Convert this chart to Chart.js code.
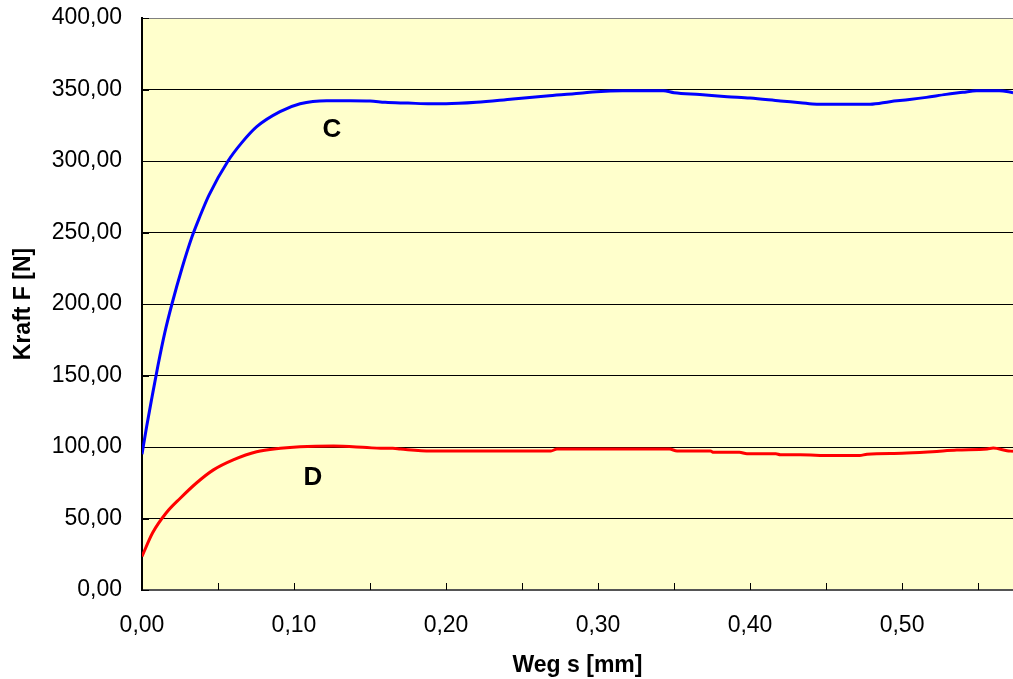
<!DOCTYPE html>
<html>
<head>
<meta charset="utf-8">
<script src="https://cdn.jsdelivr.net/npm/chart.js@4.4.1/dist/chart.umd.min.js"></script>
<style>
html,body{margin:0;padding:0;background:#fff;}
#wrap{width:1013px;height:679px;position:relative;}
</style>
</head>
<body>
<div id="wrap"><canvas id="c"></canvas></div>
<script>
// ---- data ----
const sC = [0.000,0.003,0.0066,0.0105,0.0150,0.0197,0.0263,0.0329,0.0380,0.0440,0.0566,0.0658,0.0755,0.0908,0.104,0.1215,0.137,0.150,0.160,0.175,0.190,0.200,0.220,0.244,0.266,0.288,0.299,0.316,0.330,0.343,0.350,0.367,0.385,0.400,0.420,0.433,0.444,0.460,0.479,0.492,0.505,0.516,0.529,0.540,0.549,0.564,0.573];
const fC = [95,114,135,157,180,200,225,247,261,276,300,313,324,334.5,340,342.2,342.2,342,341,340.5,340,340,341,343.4,345.5,347.3,348.5,349.2,349.2,349.2,347.8,346.5,345,344,342,340.8,339.7,339.7,339.7,341.5,343,344.5,346.6,348,349.2,349.2,347.8];
const sD = [0.000,0.007,0.016,0.025,0.036,0.047,0.060,0.0754,0.091,0.104,0.126,0.148,0.157,0.165,0.170,0.190,0.269,0.273,0.347,0.352,0.374,0.376,0.393,0.398,0.417,0.420,0.433,0.453,0.472,0.477,0.500,0.520,0.536,0.556,0.560,0.569,0.573];
const fD = [23.5,40,54,64,75,84,91,96.7,99.1,100.2,100.7,99.6,99.1,99.1,98.6,97.2,97.2,98.6,98.6,97.2,97.2,96.3,96.3,95.3,95.3,94.6,94.6,94,94,95,95.6,96.7,97.9,98.6,99.3,97.4,97];
const xTicks = [0,0.05,0.10,0.15,0.20,0.25,0.30,0.35,0.40,0.45,0.50,0.55];
const yTicks = [0,50,100,150,200,250,300,350,400];
const seriesLabels = ['C','D'];
const seriesLabelPos = [{s:0.125,f:321.5},{s:0.1125,f:78.7}];
const xTitle = 'Weg s [mm]';
const yTitle = 'Kraft F [N]';
const xMax = 0.573;

const fmt = v => v.toFixed(2).replace('.', ',');
const FONT = "'Liberation Sans', Arial, sans-serif";

const bgPlugin = {
  id:'bg',
  beforeDraw(chart){
    const {ctx, chartArea:a} = chart;
    ctx.save(); ctx.fillStyle='#FFFFCC';
    ctx.fillRect(a.left,a.top,a.right-a.left,a.bottom-a.top);
    ctx.restore();
  },
  beforeDatasetsDraw(chart){
    const {ctx, chartArea:a, scales} = chart;
    ctx.save(); ctx.strokeStyle='#000'; ctx.lineWidth=1;
    scales.x.ticks.forEach(t=>{
      const x = Math.round(scales.x.getPixelForValue(t.value))+0.5;
      ctx.beginPath(); ctx.moveTo(x,a.bottom); ctx.lineTo(x,a.bottom-7); ctx.stroke();
    });
    scales.y.ticks.forEach(t=>{
      const y = Math.round(scales.y.getPixelForValue(t.value))+0.5;
      ctx.beginPath(); ctx.moveTo(a.left,y); ctx.lineTo(a.left+7,y); ctx.stroke();
    });
    ctx.restore();
  },
  afterDatasetsDraw(chart){
    const {ctx, scales} = chart;
    ctx.save(); ctx.fillStyle='#000'; ctx.font='bold 26px '+FONT;
    ctx.textAlign='center'; ctx.textBaseline='middle';
    seriesLabels.forEach((l,i)=>{
      ctx.fillText(l, scales.x.getPixelForValue(seriesLabelPos[i].s), scales.y.getPixelForValue(seriesLabelPos[i].f));
    });
    ctx.restore();
  }
};

new Chart(document.getElementById('c'), {
  type:'line',
  data:{
    datasets:[
      {label:seriesLabels[0], data:sC.map((s,i)=>({x:s,y:fC[i]})), borderColor:'#0000FF', borderWidth:3, pointRadius:0, cubicInterpolationMode:'monotone', fill:false},
      {label:seriesLabels[1], data:sD.map((s,i)=>({x:s,y:fD[i]})), borderColor:'#FF0000', borderWidth:3, pointRadius:0, cubicInterpolationMode:'monotone', fill:false}
    ]
  },
  options:{
    responsive:true, maintainAspectRatio:false, animation:false,
    layout:{padding:{top:18,right:0,bottom:0,left:0}},
    plugins:{legend:{display:false}, tooltip:{enabled:false}},
    scales:{
      x:{
        type:'linear', min:0, max:xMax,
        afterBuildTicks(sc){ sc.ticks = xTicks.filter(v=>v<=xMax).map(v=>({value:v})); },
        afterFit(sc){ sc.height = 89; sc.paddingLeft = 0; sc.paddingRight = 0; },
        grid:{display:false, drawTicks:false},
        border:{display:true, color:'#555', width:2},
        ticks:{
          padding:22, color:'#000', font:{family:FONT, size:23}, maxRotation:0, autoSkip:false,
          callback:(v)=> Math.abs(v*10-Math.round(v*10))<1e-6 ? fmt(v) : ''
        },
        title:{display:true, text:xTitle, color:'#000', font:{family:FONT, size:23, weight:'bold'}, padding:{top:0,bottom:0}}
      },
      y:{
        type:'linear', min:0, max:400,
        afterBuildTicks(sc){ sc.ticks = yTicks.map(v=>({value:v})); },
        afterFit(sc){ sc.width = 142; sc.paddingTop = 0; sc.paddingBottom = 0; },
        grid:{drawTicks:false, color:(c)=> c.tick && c.tick.value===400 ? '#808080' : '#000', lineWidth:1},
        border:{display:true, color:'#000', width:2},
        ticks:{padding:20, color:'#000', font:{family:FONT, size:23}, callback:(v)=>fmt(v)},
        title:{display:true, text:yTitle, color:'#000', font:{family:FONT, size:23, weight:'bold'}, padding:{top:10,bottom:0}}
      }
    }
  },
  plugins:[bgPlugin]
});
</script>
</body>
</html>
